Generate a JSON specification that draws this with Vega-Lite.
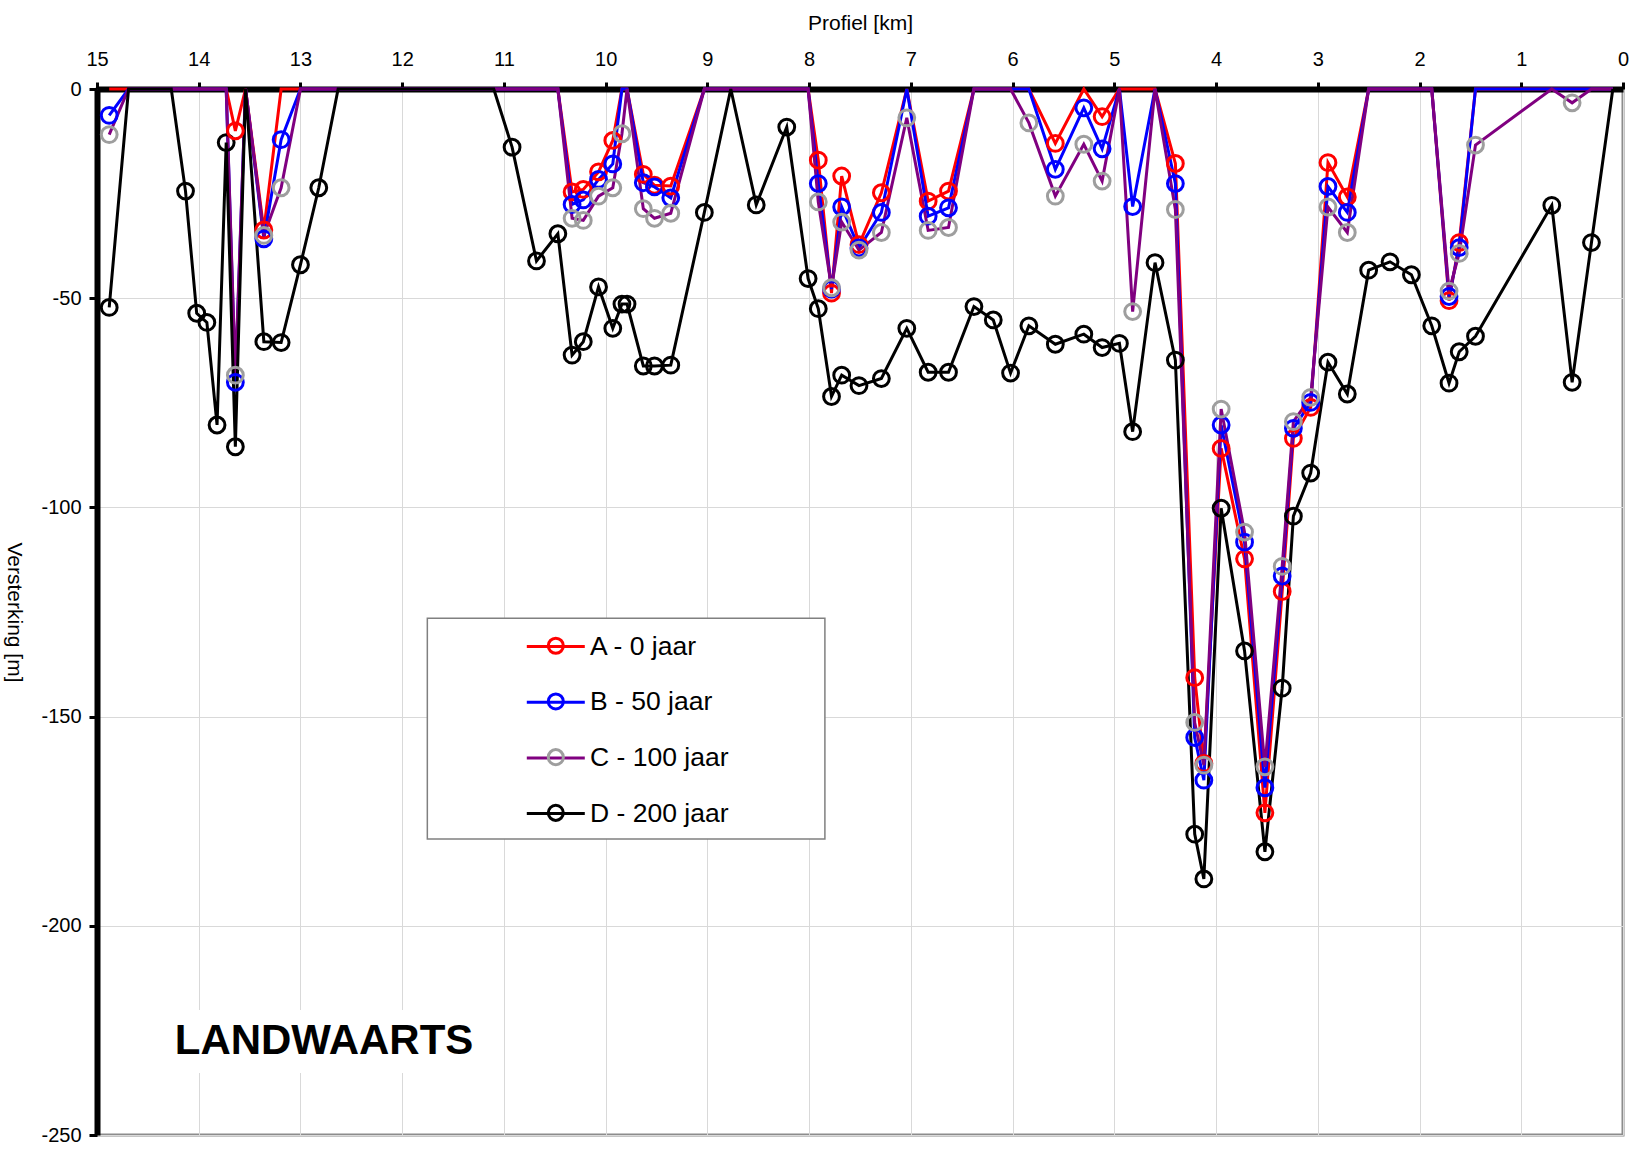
{
  "$schema": "https://vega.github.io/schema/vega-lite/v6.json",
  "width": 1526,
  "height": 1046,
  "autosize": {"type": "none"},
  "padding": {"left": 97, "top": 89, "right": 17, "bottom": 14},
  "background": "white",
  "config": {
    "font": "Liberation Sans",
    "view": {"stroke": "#8c8c8c", "strokeWidth": 3},
    "axis": {
      "domainColor": "black",
      "domainWidth": 6,
      "tickColor": "black",
      "tickWidth": 3,
      "labelColor": "black",
      "labelFont": "Liberation Sans",
      "labelFontSize": 20,
      "titleColor": "black",
      "titleFont": "Liberation Sans",
      "titleFontSize": 21,
      "titleFontWeight": "normal",
      "grid": true,
      "gridColor": "#d9d9d9",
      "gridWidth": 1,
      "labelOverlap": false,
      "labelFlush": false,
      "labelBound": false
    }
  },
  "datasets": {
    "profiel": [
      {"km": 14.88, "A - 0 jaar": 0, "B - 50 jaar": -6.3, "C - 100 jaar": -10.9, "D - 200 jaar": -52.2},
      {"km": 14.69, "A - 0 jaar": 0, "B - 50 jaar": 0, "C - 100 jaar": 0, "D - 200 jaar": 0},
      {"km": 14.27, "A - 0 jaar": 0, "B - 50 jaar": 0, "C - 100 jaar": 0, "D - 200 jaar": 0},
      {"km": 14.13, "A - 0 jaar": 0, "B - 50 jaar": 0, "C - 100 jaar": 0, "D - 200 jaar": -24.4},
      {"km": 14.02, "A - 0 jaar": 0, "B - 50 jaar": 0, "C - 100 jaar": 0, "D - 200 jaar": -53.6},
      {"km": 13.92, "A - 0 jaar": 0, "B - 50 jaar": 0, "C - 100 jaar": 0, "D - 200 jaar": -55.8},
      {"km": 13.82, "A - 0 jaar": 0, "B - 50 jaar": 0, "C - 100 jaar": 0, "D - 200 jaar": -80.3},
      {"km": 13.73, "A - 0 jaar": 0, "B - 50 jaar": 0, "C - 100 jaar": 0, "D - 200 jaar": -12.8},
      {"km": 13.64, "A - 0 jaar": -10, "B - 50 jaar": -70.1, "C - 100 jaar": -68.4, "D - 200 jaar": -85.5},
      {"km": 13.54, "A - 0 jaar": 0, "B - 50 jaar": 0, "C - 100 jaar": 0, "D - 200 jaar": 0},
      {"km": 13.36, "A - 0 jaar": -33.7, "B - 50 jaar": -35.8, "C - 100 jaar": -35, "D - 200 jaar": -60.4},
      {"km": 13.19, "A - 0 jaar": 0, "B - 50 jaar": -12.1, "C - 100 jaar": -23.6, "D - 200 jaar": -60.6},
      {"km": 13.0, "A - 0 jaar": 0, "B - 50 jaar": 0, "C - 100 jaar": 0, "D - 200 jaar": -42},
      {"km": 12.82, "A - 0 jaar": 0, "B - 50 jaar": 0, "C - 100 jaar": 0, "D - 200 jaar": -23.6},
      {"km": 12.63, "A - 0 jaar": 0, "B - 50 jaar": 0, "C - 100 jaar": 0, "D - 200 jaar": 0},
      {"km": 11.1, "A - 0 jaar": 0, "B - 50 jaar": 0, "C - 100 jaar": 0, "D - 200 jaar": 0},
      {"km": 10.92, "A - 0 jaar": 0, "B - 50 jaar": 0, "C - 100 jaar": 0, "D - 200 jaar": -13.9},
      {"km": 10.68, "A - 0 jaar": 0, "B - 50 jaar": 0, "C - 100 jaar": 0, "D - 200 jaar": -41.1},
      {"km": 10.47, "A - 0 jaar": 0, "B - 50 jaar": 0, "C - 100 jaar": 0, "D - 200 jaar": -34.6},
      {"km": 10.33, "A - 0 jaar": -24.6, "B - 50 jaar": -27.6, "C - 100 jaar": -30.9, "D - 200 jaar": -63.6},
      {"km": 10.22, "A - 0 jaar": -24, "B - 50 jaar": -26.5, "C - 100 jaar": -31.4, "D - 200 jaar": -60.4},
      {"km": 10.07, "A - 0 jaar": -19.8, "B - 50 jaar": -21.6, "C - 100 jaar": -25.6, "D - 200 jaar": -47.3},
      {"km": 9.93, "A - 0 jaar": -12.3, "B - 50 jaar": -17.9, "C - 100 jaar": -23.6, "D - 200 jaar": -57.2},
      {"km": 9.84, "A - 0 jaar": 0, "B - 50 jaar": 0, "C - 100 jaar": -10.7, "D - 200 jaar": -51.4},
      {"km": 9.79, "A - 0 jaar": 0, "B - 50 jaar": 0, "C - 100 jaar": 0, "D - 200 jaar": -51.4},
      {"km": 9.63, "A - 0 jaar": -20.4, "B - 50 jaar": -22.4, "C - 100 jaar": -28.6, "D - 200 jaar": -66.2},
      {"km": 9.52, "A - 0 jaar": -23, "B - 50 jaar": -23.4, "C - 100 jaar": -30.9, "D - 200 jaar": -66.2},
      {"km": 9.36, "A - 0 jaar": -23.2, "B - 50 jaar": -26, "C - 100 jaar": -29.7, "D - 200 jaar": -66},
      {"km": 9.03, "A - 0 jaar": 0, "B - 50 jaar": 0, "C - 100 jaar": 0, "D - 200 jaar": -29.5},
      {"km": 8.77, "A - 0 jaar": 0, "B - 50 jaar": 0, "C - 100 jaar": 0, "D - 200 jaar": 0},
      {"km": 8.52, "A - 0 jaar": 0, "B - 50 jaar": 0, "C - 100 jaar": 0, "D - 200 jaar": -27.7},
      {"km": 8.22, "A - 0 jaar": 0, "B - 50 jaar": 0, "C - 100 jaar": 0, "D - 200 jaar": -9.1},
      {"km": 8.01, "A - 0 jaar": 0, "B - 50 jaar": 0, "C - 100 jaar": 0, "D - 200 jaar": -45.3},
      {"km": 7.91, "A - 0 jaar": -17, "B - 50 jaar": -22.6, "C - 100 jaar": -27, "D - 200 jaar": -52.5},
      {"km": 7.78, "A - 0 jaar": -48.8, "B - 50 jaar": -47.8, "C - 100 jaar": -47.5, "D - 200 jaar": -73.5},
      {"km": 7.68, "A - 0 jaar": -20.8, "B - 50 jaar": -28.2, "C - 100 jaar": -31.8, "D - 200 jaar": -68.4},
      {"km": 7.51, "A - 0 jaar": -37.2, "B - 50 jaar": -38, "C - 100 jaar": -38.5, "D - 200 jaar": -70.9},
      {"km": 7.29, "A - 0 jaar": -24.8, "B - 50 jaar": -29.5, "C - 100 jaar": -34.3, "D - 200 jaar": -69.2},
      {"km": 7.04, "A - 0 jaar": 0, "B - 50 jaar": 0, "C - 100 jaar": -6.9, "D - 200 jaar": -57.2},
      {"km": 6.83, "A - 0 jaar": -26.8, "B - 50 jaar": -30.4, "C - 100 jaar": -33.8, "D - 200 jaar": -67.7},
      {"km": 6.63, "A - 0 jaar": -24.4, "B - 50 jaar": -28.4, "C - 100 jaar": -33.1, "D - 200 jaar": -67.7},
      {"km": 6.38, "A - 0 jaar": 0, "B - 50 jaar": 0, "C - 100 jaar": 0, "D - 200 jaar": -52},
      {"km": 6.19, "A - 0 jaar": 0, "B - 50 jaar": 0, "C - 100 jaar": 0, "D - 200 jaar": -55.2},
      {"km": 6.02, "A - 0 jaar": 0, "B - 50 jaar": 0, "C - 100 jaar": 0, "D - 200 jaar": -67.9},
      {"km": 5.84, "A - 0 jaar": 0, "B - 50 jaar": 0, "C - 100 jaar": -8.1, "D - 200 jaar": -56.6},
      {"km": 5.58, "A - 0 jaar": -13, "B - 50 jaar": -19.2, "C - 100 jaar": -25.6, "D - 200 jaar": -61},
      {"km": 5.3, "A - 0 jaar": 0, "B - 50 jaar": -4.5, "C - 100 jaar": -13.2, "D - 200 jaar": -58.6},
      {"km": 5.12, "A - 0 jaar": -6.6, "B - 50 jaar": -14.3, "C - 100 jaar": -22, "D - 200 jaar": -61.8},
      {"km": 4.95, "A - 0 jaar": 0, "B - 50 jaar": 0, "C - 100 jaar": 0, "D - 200 jaar": -60.8},
      {"km": 4.82, "A - 0 jaar": 0, "B - 50 jaar": -28.1, "C - 100 jaar": -53.2, "D - 200 jaar": -81.9},
      {"km": 4.6, "A - 0 jaar": 0, "B - 50 jaar": 0, "C - 100 jaar": 0, "D - 200 jaar": -41.5},
      {"km": 4.4, "A - 0 jaar": -17.8, "B - 50 jaar": -22.6, "C - 100 jaar": -28.8, "D - 200 jaar": -64.8},
      {"km": 4.21, "A - 0 jaar": -140.7, "B - 50 jaar": -155, "C - 100 jaar": -151.4, "D - 200 jaar": -178.1},
      {"km": 4.12, "A - 0 jaar": -161.2, "B - 50 jaar": -165.2, "C - 100 jaar": -161.6, "D - 200 jaar": -188.8},
      {"km": 3.95, "A - 0 jaar": -85.9, "B - 50 jaar": -80.3, "C - 100 jaar": -76.5, "D - 200 jaar": -100.2},
      {"km": 3.72, "A - 0 jaar": -112.3, "B - 50 jaar": -108.3, "C - 100 jaar": -105.9, "D - 200 jaar": -134.3},
      {"km": 3.52, "A - 0 jaar": -173, "B - 50 jaar": -167, "C - 100 jaar": -162, "D - 200 jaar": -182.3},
      {"km": 3.35, "A - 0 jaar": -120.1, "B - 50 jaar": -116.4, "C - 100 jaar": -114.1, "D - 200 jaar": -143.2},
      {"km": 3.24, "A - 0 jaar": -83.5, "B - 50 jaar": -81.1, "C - 100 jaar": -79.5, "D - 200 jaar": -102.1},
      {"km": 3.07, "A - 0 jaar": -76.1, "B - 50 jaar": -74.9, "C - 100 jaar": -73.7, "D - 200 jaar": -91.8},
      {"km": 2.9, "A - 0 jaar": -17.6, "B - 50 jaar": -23.3, "C - 100 jaar": -28.2, "D - 200 jaar": -65.3},
      {"km": 2.71, "A - 0 jaar": -25.8, "B - 50 jaar": -29.5, "C - 100 jaar": -34.3, "D - 200 jaar": -72.9},
      {"km": 2.5, "A - 0 jaar": 0, "B - 50 jaar": 0, "C - 100 jaar": 0, "D - 200 jaar": -43.3},
      {"km": 2.29, "A - 0 jaar": 0, "B - 50 jaar": 0, "C - 100 jaar": 0, "D - 200 jaar": -41.3},
      {"km": 2.08, "A - 0 jaar": 0, "B - 50 jaar": 0, "C - 100 jaar": 0, "D - 200 jaar": -44.4},
      {"km": 1.88, "A - 0 jaar": 0, "B - 50 jaar": 0, "C - 100 jaar": 0, "D - 200 jaar": -56.6},
      {"km": 1.71, "A - 0 jaar": -50.6, "B - 50 jaar": -49.6, "C - 100 jaar": -48.3, "D - 200 jaar": -70.3},
      {"km": 1.61, "A - 0 jaar": -36.7, "B - 50 jaar": -37.9, "C - 100 jaar": -39.3, "D - 200 jaar": -62.8},
      {"km": 1.45, "A - 0 jaar": 0, "B - 50 jaar": 0, "C - 100 jaar": -13.4, "D - 200 jaar": -59.1},
      {"km": 0.7, "A - 0 jaar": 0, "B - 50 jaar": 0, "C - 100 jaar": 0, "D - 200 jaar": -27.8},
      {"km": 0.5, "A - 0 jaar": 0, "B - 50 jaar": 0, "C - 100 jaar": -3.3, "D - 200 jaar": -70.1},
      {"km": 0.31, "A - 0 jaar": 0, "B - 50 jaar": 0, "C - 100 jaar": 0, "D - 200 jaar": -36.7},
      {"km": 0.1, "A - 0 jaar": 0, "B - 50 jaar": 0, "C - 100 jaar": 0, "D - 200 jaar": 0}
    ]
  },
  "layer": [
    {
      "data": {"name": "profiel"},
      "transform": [
        {"fold": ["A - 0 jaar", "B - 50 jaar", "C - 100 jaar", "D - 200 jaar"], "as": ["reeks", "v"]}
      ],
      "mark": {"type": "line", "strokeWidth": 3},
      "encoding": {
        "x": {
          "field": "km",
          "type": "quantitative",
          "title": "Profiel [km]",
          "scale": {"domain": [0, 15], "reverse": true, "nice": false, "zero": false},
          "axis": {
            "orient": "top",
            "values": [0, 1, 2, 3, 4, 5, 6, 7, 8, 9, 10, 11, 12, 13, 14, 15],
            "format": "d",
            "tickSize": 7,
            "labelPadding": 13,
            "titlePadding": 16
          }
        },
        "y": {
          "field": "v",
          "type": "quantitative",
          "title": "Versterking [m]",
          "scale": {"domain": [-250, 0], "nice": false},
          "axis": {
            "orient": "left",
            "values": [-250, -200, -150, -100, -50, 0],
            "labelExpr": "datum.value < 0 ? '-' + abs(datum.value) : '0'",
            "tickSize": 8,
            "labelPadding": 8,
            "titleAngle": 90,
            "titleBaseline": "top",
            "titlePadding": 16
          }
        },
        "color": {
          "field": "reeks",
          "type": "nominal",
          "scale": {"range": ["#ff0000", "#0000ff", "#800080", "#000000"]},
          "legend": {
            "orient": "none",
            "legendX": 444.8,
            "legendY": 543.5,
            "direction": "vertical",
            "title": null,
            "padding": 0,
            "symbolType": "M-2.32,0H2.32",
            "symbolSize": 625,
            "symbolStrokeWidth": 3,
            "labelFont": "Liberation Sans",
            "labelFontSize": 26.5,
            "labelColor": "black",
            "labelOffset": 20.2,
            "labelLimit": 400,
            "rowPadding": 27.7
          }
        }
      }
    },
    {
      "data": {"name": "profiel"},
      "transform": [
        {"fold": ["A - 0 jaar", "B - 50 jaar", "C - 100 jaar", "D - 200 jaar"], "as": ["reeks", "v"]},
        {"filter": "datum.v < 0"}
      ],
      "mark": {"type": "point", "shape": "circle", "filled": false, "size": 250, "strokeWidth": 3, "opacity": 1},
      "encoding": {
        "x": {"field": "km", "type": "quantitative"},
        "y": {"field": "v", "type": "quantitative"},
        "stroke": {
          "field": "reeks",
          "type": "nominal",
          "scale": {
            "domain": ["A - 0 jaar", "B - 50 jaar", "C - 100 jaar", "D - 200 jaar"],
            "range": ["#ff0000", "#0000ff", "#9e9e9e", "#000000"]
          },
          "legend": {
            "orient": "none",
            "legendX": 444.8,
            "legendY": 543.5,
            "direction": "vertical",
            "title": null,
            "padding": 0,
            "symbolType": "circle",
            "symbolSize": 227,
            "symbolOffset": 0.75,
            "symbolStrokeWidth": 3,
            "symbolFillColor": "transparent",
            "labelFont": "Liberation Sans",
            "labelFontSize": 26.5,
            "labelExpr": "''",
            "labelOffset": 20.2,
            "rowPadding": 27.7
          }
        }
      }
    },
    {
      "data": {"values": [{}]},
      "mark": {"type": "rect", "fill": "white", "stroke": "#808080", "strokeWidth": 1.5},
      "encoding": {
        "x": {"datum": 11.753, "type": "quantitative"},
        "x2": {"datum": 7.845},
        "y": {"datum": -126.5, "type": "quantitative"},
        "y2": {"datum": -179.25}
      }
    },
    {
      "data": {"values": [{}]},
      "mark": {"type": "rect", "fill": "white", "strokeWidth": 0},
      "encoding": {
        "x": {"datum": 14.334, "type": "quantitative"},
        "x2": {"datum": 11.209},
        "y": {"datum": -220.1, "type": "quantitative"},
        "y2": {"datum": -235.2}
      }
    },
    {
      "data": {"values": [{"label": "LANDWAARTS"}]},
      "mark": {"type": "text", "align": "left", "baseline": "middle", "font": "Liberation Sans", "fontSize": 42, "fontWeight": "bold", "color": "black"},
      "encoding": {
        "x": {"datum": 14.236, "type": "quantitative"},
        "y": {"datum": -227.5, "type": "quantitative"},
        "text": {"field": "label", "type": "nominal"}
      }
    }
  ]
}
